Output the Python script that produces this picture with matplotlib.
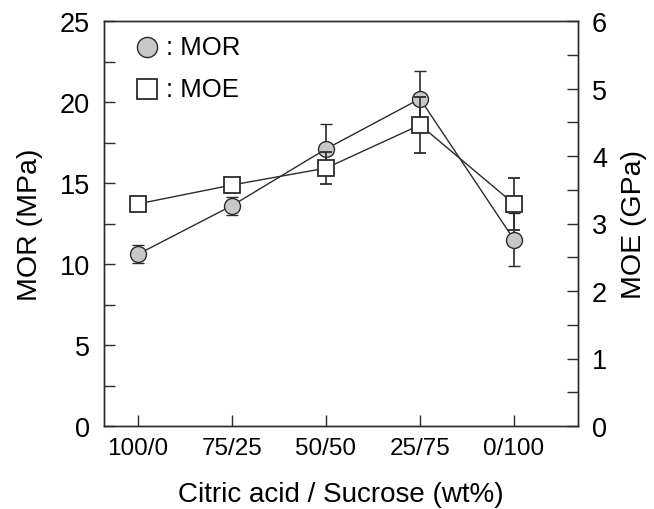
import matplotlib.pyplot as plt
from matplotlib.ticker import MultipleLocator

plt.rcParams['font.family'] = ['Liberation Sans', 'DejaVu Sans']

ratios = ["100/0", "75/25", "50/50", "25/75", "0/100"]
mor = [10.6, 13.6, 17.1, 20.2, 11.5]
mor_err = [0.55, 0.55, 1.55, 1.7, 1.65]
moe = [3.29, 3.57, 3.82, 4.46, 3.29]
moe_err = [0.05, 0.07, 0.24, 0.42, 0.38]

x = list(range(len(ratios)))
edge = '#2b2b2b'

fig = plt.figure(figsize=(6.54, 5.10), dpi=100)
ax = fig.add_axes([104 / 654, 83 / 510, 474 / 654, 405 / 510])
ax2 = ax.twinx()

ax.errorbar(x, mor, yerr=mor_err, color=edge, lw=1, capsize=4.5, elinewidth=1.2,
            marker='o', ms=11.5, mfc='#c8c8c8', mec=edge, mew=1, zorder=3)
ax2.errorbar(x, moe, yerr=moe_err, color=edge, lw=1, capsize=4.5, elinewidth=1.2,
             marker='s', ms=11.5, mfc='white', mec=edge, mew=1.3, zorder=3)

ax.set_xlim(-0.36, 4.68)
ax.set_ylim(0, 25)
ax2.set_ylim(0, 6)
ax.set_xticks(x)
ax.set_xticklabels(ratios)
ax.yaxis.set_major_locator(MultipleLocator(5))
ax.yaxis.set_minor_locator(MultipleLocator(2.5))
ax2.yaxis.set_major_locator(MultipleLocator(1))
ax2.yaxis.set_minor_locator(MultipleLocator(0.5))

for a in (ax, ax2):
    a.tick_params(direction='in', length=8, width=1, color=edge, labelsize=19.5, pad=10)
    a.tick_params(which='minor', direction='in', length=8, width=1, color=edge)
    for s in a.spines.values():
        s.set_color(edge)
        s.set_linewidth(1)
ax.tick_params(axis='x', labelsize=17.5, pad=8)

ax.set_ylabel("MOR (MPa)", fontsize=20.5, labelpad=12)
ax2.set_ylabel("MOE (GPa)", fontsize=20.5, labelpad=10)
ax.set_xlabel("Citric acid / Sucrose (wt%)", fontsize=20, labelpad=16)

# legend drawn as markers + text
ax.plot([0.1], [23.4], 'o', ms=14.5, mfc='#c8c8c8', mec=edge, mew=1, clip_on=False)
ax.text(0.3, 23.4, ": MOR", fontsize=18.5, va='center')
ax.plot([0.1], [20.8], 's', ms=14.5, mfc='white', mec=edge, mew=1.3, clip_on=False)
ax.text(0.3, 20.8, ": MOE", fontsize=18.5, va='center')

fig.savefig("out.png", dpi=100)
